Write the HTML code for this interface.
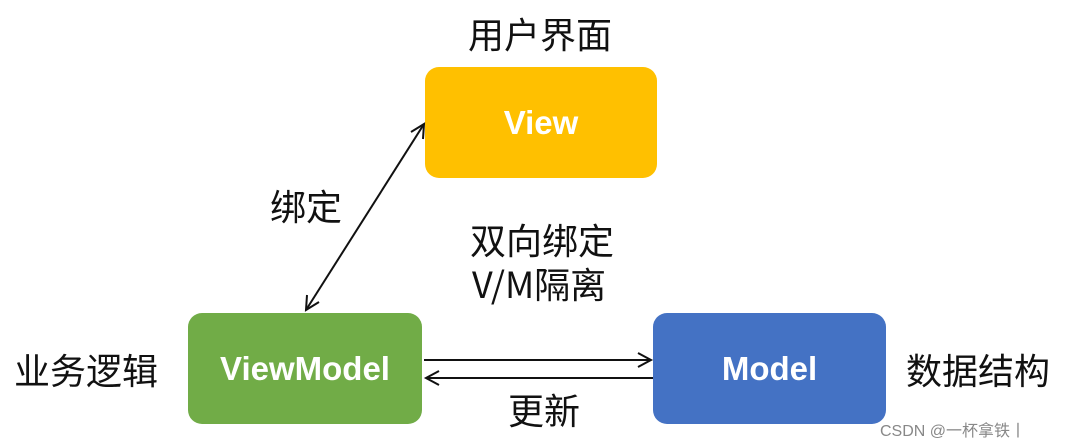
<!DOCTYPE html>
<html><head><meta charset="utf-8"><style>
body{margin:0;width:1067px;height:442px;background:#fff;position:relative;overflow:hidden;font-family:"Liberation Sans","Noto Sans CJK SC",sans-serif}
.b{position:absolute;border-radius:14px;color:#fff;font-weight:bold;font-size:33px;display:flex;align-items:center;justify-content:center}
.t{position:absolute;font-size:36px;color:#111;font-family:"Noto Sans CJK SC","WenQuanYi Zen Hei",sans-serif;line-height:1}
</style></head><body>
<div class="b" style="left:425px;top:67px;width:232px;height:111px;background:#FFC000">View</div>
<div class="b" style="left:188px;top:313px;width:234px;height:111px;background:#71AC47">ViewModel</div>
<div class="b" style="left:653px;top:313px;width:233px;height:111px;background:#4472C4">Model</div>
<div class="t" style="left:468px;top:15px">用户界面</div>
<div class="t" style="left:270px;top:187px">绑定</div>
<div class="t" style="left:470px;top:221px">双向绑定</div>
<div class="t" style="left:472px;top:265px">V/M隔离</div>
<div class="t" style="left:14px;top:351px">业务逻辑</div>
<div class="t" style="left:906px;top:351px">数据结构</div>
<div class="t" style="left:508px;top:391px">更新</div>
<div style="position:absolute;left:880px;top:417px;font-size:16px;color:#888;font-family:'Liberation Sans','Noto Sans CJK SC',sans-serif">CSDN @一杯拿铁丨</div>
<svg width="1067" height="442" style="position:absolute;left:0;top:0">
<g stroke="#111" stroke-width="2" fill="none">
<line x1="306" y1="310" x2="424" y2="124"/>
<polyline points="307,295 306,310 319,302"/>
<polyline points="411,132 424,124 423,139"/>
<line x1="424" y1="360" x2="651" y2="360"/>
<polyline points="638,353 651,360 638,367"/>
<line x1="426" y1="378" x2="653" y2="378"/>
<polyline points="439,371 426,378 439,385"/>
</g></svg>
</body></html>
